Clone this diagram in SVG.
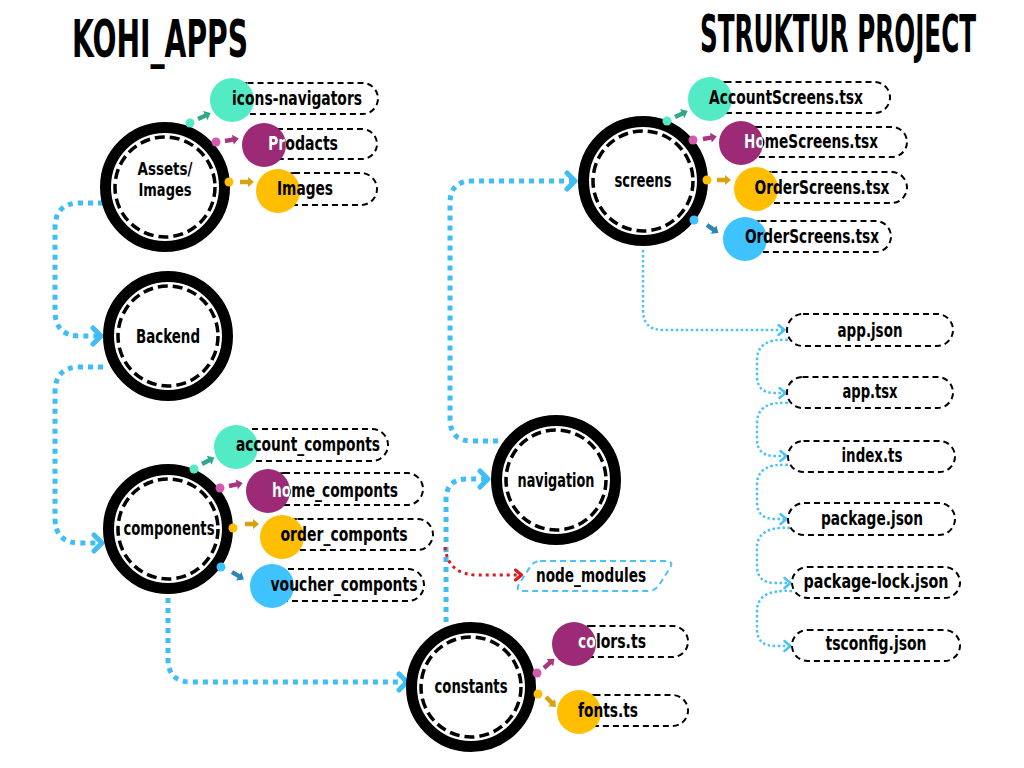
<svg xmlns="http://www.w3.org/2000/svg" width="1024" height="768" viewBox="0 0 1024 768">
<style>
text{font-family:"Liberation Sans Narrow","DejaVu Sans Condensed","Liberation Sans",sans-serif;font-weight:700;fill:#000;}
.t{font-size:19px;text-anchor:middle;}
.s{font-size:17px;}
.w{fill:#fff;}
.title{font-size:51px;}
.ring{fill:#fff;stroke:#000;stroke-width:11;}
.dash{fill:none;stroke:#000;stroke-width:3.5;stroke-dasharray:10 5;}
.box{fill:#fff;stroke:#000;stroke-width:2;stroke-dasharray:6 4;}
.thick{fill:none;stroke:#3ebdf7;stroke-width:5;stroke-dasharray:5 5;}
.thin{fill:none;stroke:#4cc3f7;stroke-width:2.5;stroke-dasharray:2.5 2.5;}
.red{fill:none;stroke:#e0161d;stroke-width:3;stroke-dasharray:3 4;}
.teal{fill:#52ebc6;} .mag{fill:#9c2a77;} .yel{fill:#ffbe00;} .blu{fill:#3fc3ff;}
.dteal{fill:#52ebc6;} .dmag{fill:#d35aae;} .dyel{fill:#ffbe00;} .dblu{fill:#3fc3ff;}
.ateal{fill:#2fa88c;} .amag{fill:#a8367f;} .ayel{fill:#d6a20f;} .ablu{fill:#2b86b5;}
</style>
<defs>
<path id="arr" d="M0,-2.2 L8,-2.2 L8,-5 L14,0 L8,5 L8,2.2 L0,2.2 Z"/>
<marker id="chev" viewBox="0 0 14 22" refX="11" refY="11" markerWidth="14" markerHeight="22" markerUnits="userSpaceOnUse" orient="auto">
<path d="M3,3 L11,11 L3,19" fill="none" stroke="#3ebdf7" stroke-width="5" stroke-linecap="round" stroke-linejoin="round"/>
</marker>
<marker id="chevT" viewBox="0 0 10 14" refX="8.5" refY="7" markerWidth="10" markerHeight="14" markerUnits="userSpaceOnUse" orient="auto">
<path d="M2,2 L8,7 L2,12" fill="none" stroke="#4cc3f7" stroke-width="2.5" stroke-linecap="round" stroke-linejoin="round"/>
</marker>
<marker id="chevR" viewBox="0 0 10 14" refX="8.5" refY="7" markerWidth="10" markerHeight="14" markerUnits="userSpaceOnUse" orient="auto">
<path d="M2,2 L8,7 L2,12" fill="none" stroke="#e0161d" stroke-width="3" stroke-linecap="round" stroke-linejoin="round"/>
</marker>
<clipPath id="c1"><circle cx="264" cy="145" r="22"/></clipPath>
<clipPath id="c2"><circle cx="268" cy="491" r="22"/></clipPath>
<clipPath id="c3"><circle cx="741" cy="143" r="22"/></clipPath>
<clipPath id="c4"><circle cx="574" cy="644" r="22"/></clipPath>
</defs>
<rect width="1024" height="768" fill="#fff"/>

<text class="title" transform="translate(72,57) scale(0.61,1)" x="0" y="0" textLength="288.5" lengthAdjust="spacingAndGlyphs">KOHI_APPS</text>
<text class="title" transform="translate(700,52) scale(0.55,1)" x="0" y="0" textLength="502" lengthAdjust="spacingAndGlyphs">STRUKTUR PROJECT</text>

<g id="connectors">
<path class="thick" d="M103,203 L80,203 Q55,203 55,228 L55,311 Q55,336 80,336 L101,336" marker-end="url(#chev)"/>
<path class="thick" d="M103,367 L80,367 Q55,367 55,392 L55,518 Q55,543 80,543 L102,543" marker-end="url(#chev)"/>
<path class="thick" d="M168,598 L168,659 Q168,682 191,682 L407,682" marker-end="url(#chev)"/>
<path class="thick" d="M446,622 L446,500 Q446,479 467,479 L488,479" marker-end="url(#chev)"/>
<path class="thick" d="M498,441 L472,441 Q450,441 450,419 L450,203 Q450,181 472,181 L575,181" marker-end="url(#chev)"/>
<path class="red" d="M445,547 Q448,575 478,575 L522,575" marker-end="url(#chevR)"/>
<path class="thin" d="M643,250 L643,310 Q643,330 663,330 L785,330" marker-end="url(#chevT)"/>
<path class="thin" d="M788,340 Q757,338 757,360 L757,376 Q757,393 775,393 L786,393" marker-end="url(#chevT)"/>
<path class="thin" d="M788,403 Q757,401 757,423 L757,439 Q757,456 775,456 L787,456" marker-end="url(#chevT)"/>
<path class="thin" d="M788,465 Q757,463 757,485 L757,502 Q757,519 775,519 L787,519" marker-end="url(#chevT)"/>
<path class="thin" d="M790,528 Q757,526 757,548 L757,566 Q757,583 775,583 L791,583" marker-end="url(#chevT)"/>
<path class="thin" d="M792,591 Q757,589 757,611 L757,629 Q757,646 775,646 L791,646" marker-end="url(#chevT)"/>
</g>

<g id="node-assets">
<circle class="ring" cx="165" cy="187" r="59.5"/>
<circle class="dash" cx="165" cy="187" r="50"/>
<text class="t s" x="165" y="175" textLength="55" lengthAdjust="spacingAndGlyphs">Assets/</text>
<text class="t s" x="165" y="196" textLength="53" lengthAdjust="spacingAndGlyphs">Images</text>
</g>
<g id="item-icons-navigators">
<rect class="box" x="232" y="83" width="146" height="31" rx="15.5"/>
<circle class="teal" cx="232" cy="100" r="22"/>
<circle class="dteal" cx="190" cy="123" r="4.5"/>
<use href="#arr" class="ateal" transform="translate(198,119) rotate(-25)"/>
<text class="t" x="297" y="105" textLength="130" lengthAdjust="spacingAndGlyphs">icons-navigators</text>
</g>
<g id="item-prodacts">
<rect class="box" x="262" y="129" width="115" height="30" rx="15"/>
<circle class="mag" cx="264" cy="145" r="22"/>
<circle class="dmag" cx="216" cy="142" r="4.5"/>
<use href="#arr" class="amag" transform="translate(225,141) rotate(-10)"/>
<text class="t" x="303" y="150" textLength="70" lengthAdjust="spacingAndGlyphs">Prodacts</text>
<text class="t w" clip-path="url(#c1)" x="303" y="150" textLength="70" lengthAdjust="spacingAndGlyphs">Prodacts</text>
</g>
<g id="item-images">
<rect class="box" x="278" y="173" width="99" height="32" rx="16"/>
<circle class="yel" cx="278" cy="191" r="22"/>
<circle class="dyel" cx="229" cy="182" r="4.5"/>
<use href="#arr" class="ayel" transform="translate(240,182)"/>
<text class="t" x="305" y="195" textLength="56" lengthAdjust="spacingAndGlyphs">Images</text>
</g>

<g id="node-backend">
<circle class="ring" cx="168" cy="336" r="59.5"/>
<circle class="dash" cx="168" cy="336" r="50"/>
<text class="t" x="168" y="343" textLength="64" lengthAdjust="spacingAndGlyphs">Backend</text>
</g>

<g id="node-components">
<circle class="ring" cx="168" cy="529" r="59.5"/>
<circle class="dash" cx="168" cy="529" r="50"/>
<text class="t" x="169" y="535" textLength="91" lengthAdjust="spacingAndGlyphs">components</text>
</g>
<g id="item-account_componts">
<rect class="box" x="236" y="429" width="152" height="32" rx="16"/>
<circle class="teal" cx="236" cy="447" r="22"/>
<circle class="dteal" cx="194" cy="469" r="4.5"/>
<use href="#arr" class="ateal" transform="translate(202,464) rotate(-28)"/>
<text class="t" x="308" y="451" textLength="144" lengthAdjust="spacingAndGlyphs">account_componts</text>
</g>
<g id="item-home_componts">
<rect class="box" x="268" y="473" width="155" height="32" rx="16"/>
<circle class="mag" cx="268" cy="491" r="22"/>
<circle class="dmag" cx="220" cy="488" r="4.5"/>
<use href="#arr" class="amag" transform="translate(229,486) rotate(-12)"/>
<text class="t" x="335" y="497" textLength="126" lengthAdjust="spacingAndGlyphs">home_componts</text>
<text class="t w" clip-path="url(#c2)" x="335" y="497" textLength="126" lengthAdjust="spacingAndGlyphs">home_componts</text>
</g>
<g id="item-order_componts">
<rect class="box" x="282" y="519" width="151" height="31" rx="15.5"/>
<circle class="yel" cx="282" cy="537" r="22"/>
<circle class="dyel" cx="233" cy="528" r="4.5"/>
<use href="#arr" class="ayel" transform="translate(245,524)"/>
<text class="t" x="344" y="541" textLength="127" lengthAdjust="spacingAndGlyphs">order_componts</text>
</g>
<g id="item-voucher_componts">
<rect class="box" x="272" y="569" width="152" height="32" rx="16"/>
<circle class="blu" cx="272" cy="586" r="22"/>
<circle class="dblu" cx="221" cy="567" r="4.5"/>
<use href="#arr" class="ablu" transform="translate(232,572) rotate(32)"/>
<text class="t" x="344" y="591" textLength="147" lengthAdjust="spacingAndGlyphs">voucher_componts</text>
</g>

<g id="node-screens">
<circle class="ring" cx="643" cy="181" r="59.5"/>
<circle class="dash" cx="643" cy="181" r="50"/>
<text class="t" x="643" y="187" textLength="57" lengthAdjust="spacingAndGlyphs">screens</text>
</g>
<g id="item-AccountScreens">
<rect class="box" x="710" y="82" width="180" height="31" rx="15.5"/>
<circle class="teal" cx="710" cy="99" r="22"/>
<circle class="dteal" cx="667" cy="121" r="4.5"/>
<use href="#arr" class="ateal" transform="translate(675,117) rotate(-25)"/>
<text class="t" x="786" y="104" textLength="154" lengthAdjust="spacingAndGlyphs">AccountScreens.tsx</text>
</g>
<g id="item-HomeScreens">
<rect class="box" x="741" y="127" width="166" height="30" rx="15"/>
<circle class="mag" cx="741" cy="143" r="22"/>
<circle class="dmag" cx="693" cy="140" r="4.5"/>
<use href="#arr" class="amag" transform="translate(703,139) rotate(-10)"/>
<text class="t" x="811" y="148" textLength="134" lengthAdjust="spacingAndGlyphs">HomeScreens.tsx</text>
<text class="t w" clip-path="url(#c3)" x="811" y="148" textLength="134" lengthAdjust="spacingAndGlyphs">HomeScreens.tsx</text>
</g>
<g id="item-OrderScreens-1">
<rect class="box" x="756" y="172" width="151" height="31" rx="15.5"/>
<circle class="yel" cx="756" cy="189" r="22"/>
<circle class="dyel" cx="707" cy="180" r="4.5"/>
<use href="#arr" class="ayel" transform="translate(717,180)"/>
<text class="t" x="822" y="194" textLength="135" lengthAdjust="spacingAndGlyphs">OrderScreens.tsx</text>
</g>
<g id="item-OrderScreens-2">
<rect class="box" x="745" y="221" width="146" height="31" rx="15.5"/>
<circle class="blu" cx="745" cy="239" r="22"/>
<circle class="dblu" cx="694" cy="220" r="4.5"/>
<use href="#arr" class="ablu" transform="translate(707,225) rotate(35)"/>
<text class="t" x="812" y="243" textLength="134" lengthAdjust="spacingAndGlyphs">OrderScreens.tsx</text>
</g>

<g id="node-navigation">
<circle class="ring" cx="556" cy="480" r="59.5"/>
<circle class="dash" cx="556" cy="480" r="50"/>
<text class="t" x="556" y="487" textLength="77" lengthAdjust="spacingAndGlyphs">navigation</text>
</g>

<g id="node-node_modules">
<path d="M540,561 L666,561 Q674,561 670,568 L659,585 Q655,591 648,591 L523,591 Q515,591 519,584 L530,567 Q534,561 540,561 Z" fill="#fff" stroke="#4cc3f7" stroke-width="2" stroke-dasharray="6 4"/>
<text class="t" x="591" y="582" textLength="110" lengthAdjust="spacingAndGlyphs">node_modules</text>
</g>

<g id="node-constants">
<circle class="ring" cx="471" cy="687" r="59.5"/>
<circle class="dash" cx="471" cy="687" r="50"/>
<text class="t" x="471" y="693" textLength="73" lengthAdjust="spacingAndGlyphs">constants</text>
</g>
<g id="item-colors">
<rect class="box" x="574" y="626" width="114" height="31" rx="15.5"/>
<circle class="mag" cx="574" cy="644" r="22"/>
<circle class="dmag" cx="537" cy="673" r="4.5"/>
<use href="#arr" class="amag" transform="translate(544,668) rotate(-42)"/>
<text class="t" x="612" y="648" textLength="68" lengthAdjust="spacingAndGlyphs">colors.ts</text>
<text class="t w" clip-path="url(#c4)" x="612" y="648" textLength="68" lengthAdjust="spacingAndGlyphs">colors.ts</text>
</g>
<g id="item-fonts">
<rect class="box" x="579" y="695" width="109" height="31" rx="15.5"/>
<circle class="yel" cx="579" cy="712" r="22"/>
<circle class="dyel" cx="538" cy="694" r="4.5"/>
<use href="#arr" class="ayel" transform="translate(546,697) rotate(45)"/>
<text class="t" x="608" y="717" textLength="60" lengthAdjust="spacingAndGlyphs">fonts.ts</text>
</g>

<g id="file-app-json">
<rect class="box" x="787" y="314" width="166" height="32" rx="16"/>
<text class="t" x="870" y="337" textLength="65" lengthAdjust="spacingAndGlyphs">app.json</text>
</g>
<g id="file-app-tsx">
<rect class="box" x="787" y="377" width="166" height="31" rx="15.5"/>
<text class="t" x="870" y="398" textLength="55" lengthAdjust="spacingAndGlyphs">app.tsx</text>
</g>
<g id="file-index-ts">
<rect class="box" x="788" y="441" width="167" height="31" rx="15.5"/>
<text class="t" x="872" y="462" textLength="61" lengthAdjust="spacingAndGlyphs">index.ts</text>
</g>
<g id="file-package-json">
<rect class="box" x="788" y="503" width="167" height="32" rx="16"/>
<text class="t" x="872" y="525" textLength="102" lengthAdjust="spacingAndGlyphs">package.json</text>
</g>
<g id="file-package-lock-json">
<rect class="box" x="792" y="567" width="168" height="31" rx="15.5"/>
<text class="t" x="876" y="588" textLength="145" lengthAdjust="spacingAndGlyphs">package-lock.json</text>
</g>
<g id="file-tsconfig-json">
<rect class="box" x="792" y="630" width="168" height="31" rx="15.5"/>
<text class="t" x="876" y="650" textLength="101" lengthAdjust="spacingAndGlyphs">tsconfig.json</text>
</g>
</svg>
